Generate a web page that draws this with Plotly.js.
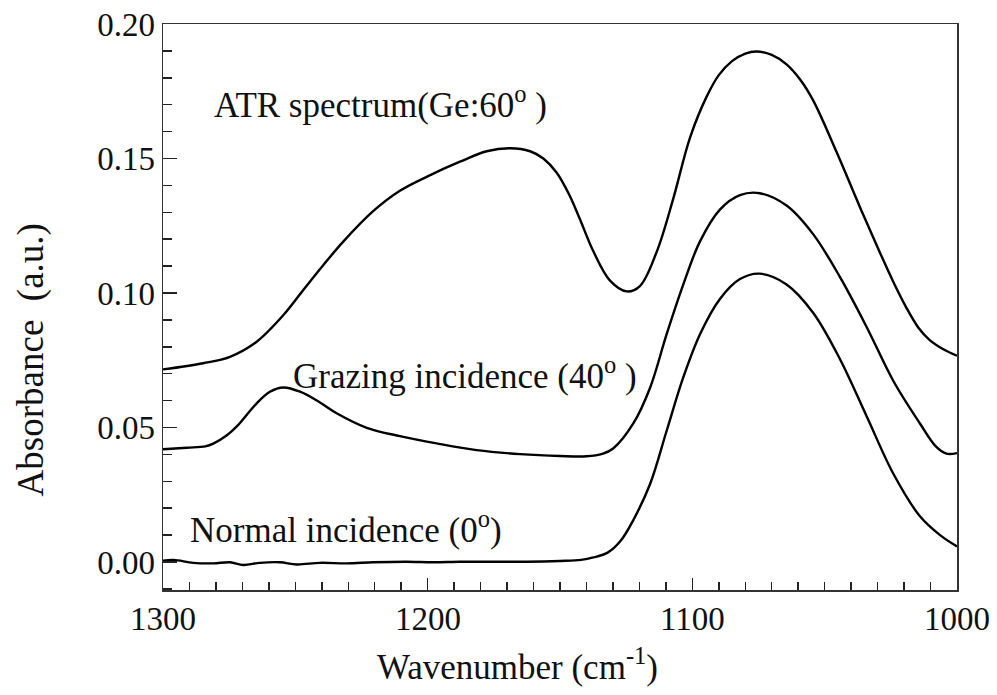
<!DOCTYPE html>
<html>
<head>
<meta charset="utf-8">
<script src="https://cdn.plot.ly/plotly-3.0.1.min.js"></script>
<style>html,body{margin:0;padding:0;background:#fff;}#chart{width:997px;height:695px;}</style>
</head>
<body>
<div id="chart"></div>
<script>
// ATR spectrum (Ge:60°)
const atrWavenumber = [1300, 1284.8, 1274.7, 1264.6, 1254.5, 1247, 1239.4, 1231.9, 1220.5, 1210.5, 1200.4, 1187.8, 1177.7, 1168.9, 1161.3, 1156.3, 1151.3, 1146.5, 1142.5, 1137.4, 1131.1, 1124.8, 1119.8, 1113.5, 1107.2, 1100.9, 1094.6, 1090, 1085, 1080, 1075.7, 1070, 1064.4, 1059, 1054.3, 1045.5, 1036.7, 1029.1, 1024, 1019.1, 1014.5, 1010.3, 1005, 1000];
const atrAbsorbance = [0.0716, 0.0739, 0.0763, 0.0819, 0.0918, 0.1011, 0.1104, 0.1191, 0.1305, 0.1380, 0.1432, 0.1488, 0.1527, 0.1538, 0.1527, 0.1500, 0.1448, 0.1365, 0.1275, 0.1155, 0.1046, 0.1006, 0.1026, 0.1152, 0.1351, 0.1577, 0.1730, 0.1810, 0.1862, 0.1890, 0.1898, 0.1885, 0.1850, 0.1790, 0.1715, 0.1524, 0.1320, 0.1150, 0.1040, 0.0945, 0.0870, 0.0825, 0.0790, 0.0767];

// Grazing incidence (40°)
const grazWavenumber = [1300, 1291, 1284, 1281, 1276, 1272.2, 1264.6, 1259.6, 1254.5, 1248.2, 1241, 1234.4, 1223, 1210.5, 1196.6, 1181.5, 1165.1, 1150, 1140, 1134, 1129.9, 1122.3, 1116, 1109.7, 1103.4, 1097.1, 1089.5, 1082, 1074.5, 1064.4, 1054.3, 1044.2, 1034.1, 1024.1, 1014, 1008, 1004, 1000];
const grazAbsorbance = [0.0419, 0.0425, 0.0430, 0.0440, 0.0470, 0.0503, 0.0590, 0.0633, 0.0649, 0.0633, 0.0595, 0.0553, 0.0499, 0.0468, 0.0441, 0.0416, 0.0401, 0.0394, 0.0393, 0.0402, 0.0422, 0.0515, 0.0647, 0.0847, 0.1032, 0.1192, 0.1311, 0.1364, 0.1371, 0.1325, 0.1218, 0.1059, 0.0873, 0.0674, 0.0515, 0.0430, 0.0403, 0.0405];

// Normal incidence (0°)
const normWavenumber = [1300, 1296, 1288.6, 1281, 1274.7, 1269.7, 1263.4, 1255.8, 1249.5, 1240.7, 1230.6, 1220.5, 1208, 1197.9, 1187.8, 1175.2, 1162.6, 1150, 1142, 1137.4, 1132, 1127, 1122.3, 1116, 1109.7, 1103.4, 1097.1, 1089.5, 1082, 1074.5, 1064.4, 1054.3, 1044.2, 1034.1, 1024.1, 1014, 1006.4, 1000];
const normAbsorbance = [0.0005, 0.0008, -0.0003, -0.0005, -0.0001, -0.0011, -0.0003, -0.0001, -0.0009, -0.0003, -0.0005, -0.0001, 0.0001, -0.0001, 0.0001, 0.0001, 0.0001, 0.0004, 0.0008, 0.0017, 0.0035, 0.0080, 0.0156, 0.0289, 0.0488, 0.0687, 0.0847, 0.0979, 0.1052, 0.1072, 0.1032, 0.0926, 0.0754, 0.0541, 0.0329, 0.0170, 0.0100, 0.0058];

// Tick labels
const xTickVals = [1300, 1250, 1200, 1150, 1100, 1050, 1000];
const xTickText = ['1300', '', '1200', '', '1100', '', '1000'];

const seriesLabels = ['ATR spectrum(Ge:60<sup>o</sup> )', 'Grazing incidence (40<sup>o</sup> )', 'Normal incidence (0<sup>o</sup>)'];
const xTitle = 'Wavenumber (cm<sup>-1</sup>)';
const yTitle = 'Absorbance\u00a0\u00a0(a.u.)';

const FONT = 'Liberation Serif';
const lineStyle = {color: '#000', width: 2.4, shape: 'spline', smoothing: 1};

const traces = [
  {x: atrWavenumber, y: atrAbsorbance, mode: 'lines', line: lineStyle, name: 'ATR'},
  {x: grazWavenumber, y: grazAbsorbance, mode: 'lines', line: lineStyle, name: 'Grazing'},
  {x: normWavenumber, y: normAbsorbance, mode: 'lines', line: lineStyle, name: 'Normal'}
];

const annFont = {family: FONT, size: 35, color: '#111'};
const tickFont = {family: FONT, size: 33, color: '#111'};

// x tick labels drawn on the x scale (placed slightly closer to the axis than Plotly's default)
const xTickAnnotations = xTickVals.map((v, i) => ({
  xref: 'x', yref: 'paper', x: v, y: -0.052, xanchor: 'center', yanchor: 'middle',
  text: xTickText[i], showarrow: false, font: tickFont
})).filter(a => a.text !== '');

const layout = {
  width: 997, height: 695,
  margin: {l: 163, r: 40, t: 24, b: 105},
  paper_bgcolor: '#fff', plot_bgcolor: '#fff',
  showlegend: false,
  font: {family: FONT, color: '#111'},
  xaxis: {
    range: [1300, 1000], autorange: false,
    tickmode: 'array', tickvals: xTickVals, ticktext: xTickText,
    showticklabels: false,
    ticks: 'inside', ticklen: 12, tickwidth: 1.5, tickcolor: '#222',
    minor: {dtick: 10, tick0: 1000, ticks: 'inside', ticklen: 8, tickwidth: 1.5, tickcolor: '#222'},
    showline: true, linecolor: '#333', linewidth: 1.5, mirror: true,
    showgrid: false, zeroline: false
  },
  yaxis: {
    range: [-0.0104, 0.2], autorange: false,
    dtick: 0.05, tick0: 0, tickformat: '.2f',
    ticks: 'inside', ticklen: 14, tickwidth: 1.5, tickcolor: '#222',
    minor: {dtick: 0.01, tick0: 0, ticks: 'inside', ticklen: 9, tickwidth: 1.5, tickcolor: '#222'},
    showline: true, linecolor: '#333', linewidth: 1.5, mirror: true,
    showgrid: false, zeroline: false,
    tickfont: tickFont
  },
  annotations: xTickAnnotations.concat([
    {xref: 'paper', yref: 'paper', x: 0.0617, y: 0.862, xanchor: 'left', yanchor: 'middle', text: seriesLabels[0], showarrow: false, font: annFont},
    {xref: 'paper', yref: 'paper', x: 0.161, y: 0.382, xanchor: 'left', yanchor: 'middle', text: seriesLabels[1], showarrow: false, font: annFont},
    {xref: 'paper', yref: 'paper', x: 0.031, y: 0.11, xanchor: 'left', yanchor: 'middle', text: seriesLabels[2], showarrow: false, font: annFont},
    {xref: 'paper', yref: 'paper', x: 0.446, y: -0.1325, xanchor: 'center', yanchor: 'middle', text: xTitle, showarrow: false, font: {family: FONT, size: 35, color: '#111'}},
    {xref: 'paper', yref: 'paper', x: -0.166, y: 0.406, xanchor: 'center', yanchor: 'middle', textangle: -90, text: yTitle, showarrow: false, font: {family: FONT, size: 37, color: '#111'}}
  ])
};

Plotly.newPlot('chart', traces, layout, {staticPlot: true, displayModeBar: false});
</script>
</body>
</html>
